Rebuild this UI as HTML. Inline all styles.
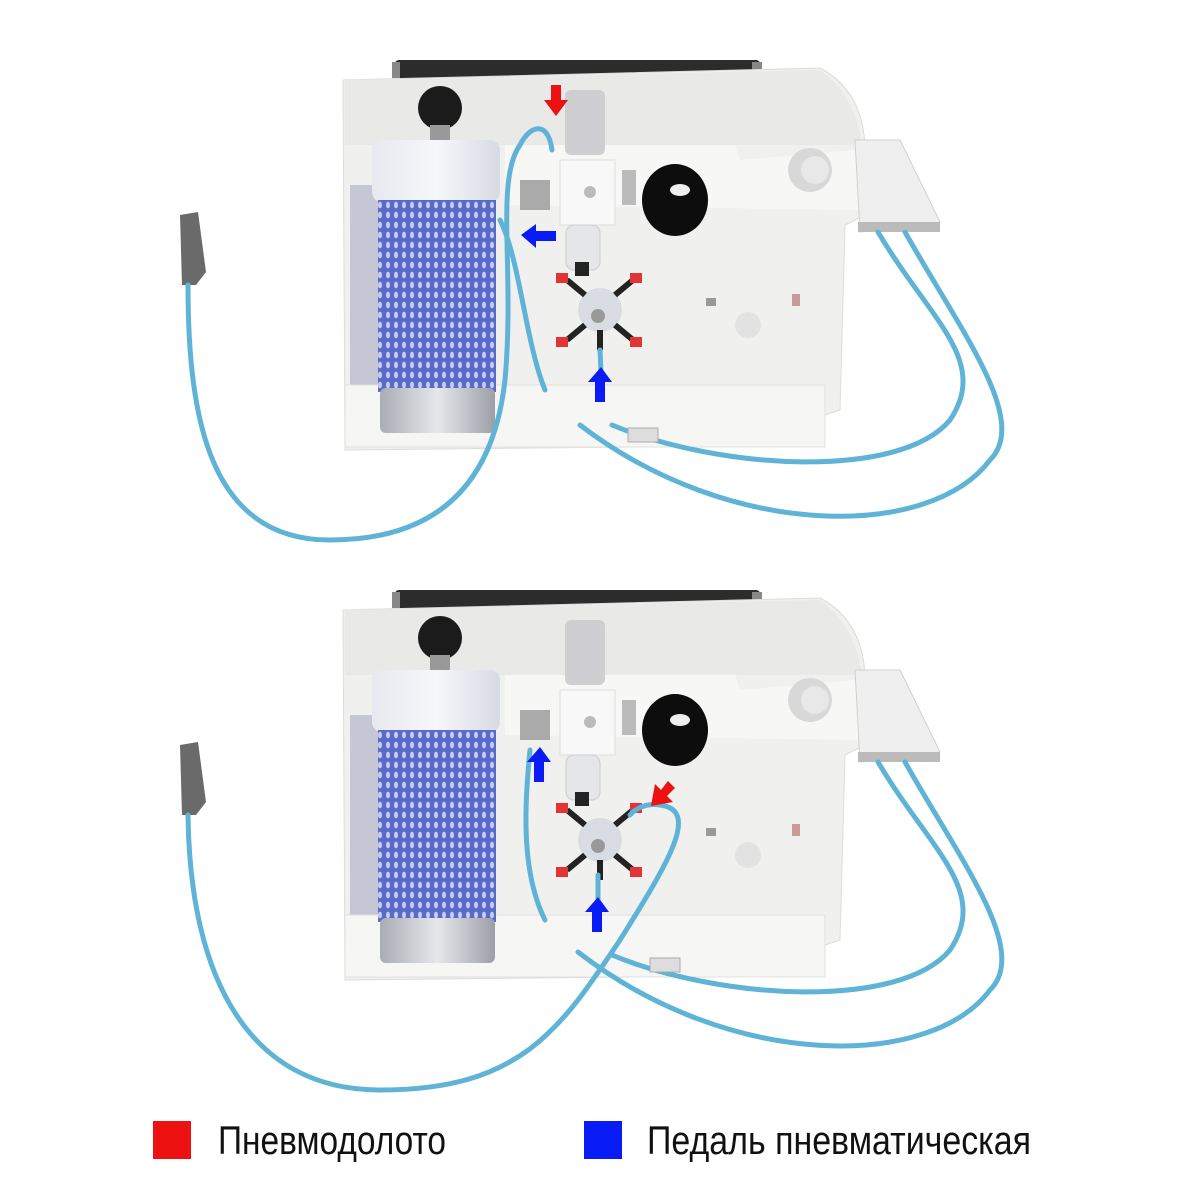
<!DOCTYPE html>
<html><head><meta charset="utf-8"><style>
html,body{margin:0;padding:0;background:#fff;}
svg{display:block}
.lg{font-family:"Liberation Sans Narrow","Liberation Sans",sans-serif;font-size:40px;fill:#111;}
</style></head><body>
<svg width="1182" height="1194" viewBox="0 0 1182 1194" xmlns="http://www.w3.org/2000/svg">
<defs>
<pattern id="mesh" width="8" height="10" patternUnits="userSpaceOnUse">
<rect width="8" height="10" fill="#5a6acb"/>
<ellipse cx="4" cy="5" rx="2" ry="3.4" fill="#c8cdf0"/>
</pattern>
<linearGradient id="cap" x1="0" x2="1"><stop offset="0" stop-color="#e6e9ef"/><stop offset="0.5" stop-color="#f6f7fa"/><stop offset="1" stop-color="#d7dbe2"/></linearGradient>
<linearGradient id="base" x1="0" x2="1"><stop offset="0" stop-color="#a9adb4"/><stop offset="0.5" stop-color="#e5e7ea"/><stop offset="1" stop-color="#9ca0a6"/></linearGradient>
<g id="unit">
<rect x="395" y="60" width="365" height="18" rx="4" fill="#2c2c2c"/>
<rect x="392" y="62" width="8" height="16" fill="#888"/><rect x="752" y="62" width="10" height="16" fill="#888"/>
<path d="M343 80 L820 68 Q862 90 865 145 L865 215 L845 225 L840 410 L825 415 L825 445 L345 450 Z" fill="#f0f0ee" stroke="#dcdcda"/>
<path d="M345 80 L820 70 Q855 95 862 145 L345 145 Z" fill="#e9e9e7"/>
<path d="M505 145 L735 145 L740 160 L855 150 L860 210 L505 205 Z" fill="#f7f7f6"/>
<rect x="350" y="185" width="30" height="245" fill="#c5c8d4"/>
<rect x="345" y="385" width="480" height="62" fill="#f6f6f5" stroke="#e0e0de"/>
<ellipse cx="675" cy="200" rx="33" ry="36" fill="#0d0d0d"/>
<ellipse cx="680" cy="190" rx="10" ry="6" fill="#eee"/>
<circle cx="810" cy="170" r="22" fill="#d8d8d8"/><circle cx="815" cy="170" r="14" fill="#e8e8e8"/>
<circle cx="748" cy="325" r="13" fill="#e2e2e2"/>
<path d="M855 140 L900 140 L940 222 L860 232 Z" fill="#efefef" stroke="#d0d0d0"/>
<rect x="858" y="222" width="82" height="10" fill="#bbb"/>
<circle cx="440" cy="108" r="22" fill="#1b1b1b"/>
<rect x="430" y="125" width="20" height="20" fill="#999"/>
<rect x="372" y="140" width="128" height="62" rx="10" fill="url(#cap)"/>
<rect x="378" y="200" width="118" height="192" fill="url(#mesh)"/>
<rect x="380" y="388" width="115" height="45" rx="6" fill="url(#base)"/>
<rect x="565" y="90" width="40" height="65" rx="6" fill="#cfcfd1"/>
<rect x="560" y="160" width="55" height="65" fill="#f8f8f8" stroke="#ddd"/>
<circle cx="590" cy="192" r="6" fill="#bbb"/>
<rect x="566" y="225" width="34" height="45" rx="8" fill="#e4e6e8" stroke="#ccc"/>
<rect x="575" y="262" width="14" height="14" fill="#222"/>
<rect x="622" y="170" width="14" height="35" fill="#bbb"/>
<rect x="520" y="180" width="30" height="30" fill="#aaa"/>
<circle cx="600" cy="310" r="22" fill="#d9dde3"/><circle cx="598" cy="316" r="7" fill="#999"/>
<g stroke="#222" stroke-width="6"><line x1="585" y1="295" x2="567" y2="280"/><line x1="615" y1="295" x2="633" y2="280"/><line x1="585" y1="325" x2="567" y2="340"/><line x1="615" y1="325" x2="633" y2="340"/><line x1="600" y1="330" x2="600" y2="350"/></g>
<g fill="#e23434"><rect x="556" y="273" width="12" height="10"/><rect x="630" y="273" width="12" height="10"/><rect x="556" y="337" width="12" height="10"/><rect x="630" y="337" width="12" height="10"/></g>
<rect x="706" y="298" width="10" height="8" fill="#999"/><rect x="792" y="294" width="8" height="12" fill="#c99"/>
</g>
</defs>

<use href="#unit"/>
<use href="#unit" transform="translate(0,530)"/>

<g>
<path d="M180 215 L198 212 L206 272 L196 285 L182 285 Z" fill="#6a6a6a"/>
<path d="M180 745 L198 742 L206 802 L196 815 L182 815 Z" fill="#6a6a6a"/>
</g>

<g fill="none" stroke="#5fb3d6" stroke-width="5" stroke-linecap="round">
<path d="M188 285 C188 420 210 540 330 540 C450 540 495 470 505 380 C515 270 495 180 520 145 C530 125 548 120 552 150"/>
<path d="M500 220 C520 260 525 340 545 390"/>
<path d="M600 350 L602 395"/>
<path d="M878 232 C930 320 990 360 950 420 C900 480 720 470 612 425"/>
<path d="M905 232 C960 330 1030 420 990 460 C930 540 730 540 580 425"/>
</g>
<rect x="628" y="428" width="30" height="14" fill="#ddd" stroke="#aaa"/>

<g fill="none" stroke="#5fb3d6" stroke-width="5" stroke-linecap="round">
<path d="M188 815 C190 980 250 1090 380 1090 C520 1090 560 1030 620 940 C670 860 700 810 660 805 C640 802 630 815 630 815"/>
<path d="M530 750 C525 800 520 870 545 920"/>
<path d="M598 875 L598 925"/>
<path d="M878 762 C930 850 990 890 950 950 C900 1010 720 1000 612 955"/>
<path d="M905 762 C960 860 1030 950 990 990 C930 1070 730 1070 578 952"/>
</g>
<rect x="650" y="958" width="30" height="14" fill="#ddd" stroke="#aaa"/>

<g fill="#ee1111">
<path d="M551 85 h10 v15 h7 l-12 16 l-12 -16 h7 z"/>
<path d="M668 781 l7 7 l-8 8 l6 6 l-22 4 l4 -22 l6 6 z"/>
</g>
<g fill="#0a1cf5">
<path d="M521 235 l15 -11 v7 h20 v10 h-20 v7 z"/>
<path d="M601 367 l11 15 h-7 v20 h-10 v-20 h-7 z"/>
<path d="M540 747 l11 15 h-7 v20 h-10 v-20 h-7 z"/>
<path d="M598 897 l11 15 h-7 v20 h-10 v-20 h-7 z"/>
</g>

<rect x="153" y="1121" width="38" height="38" fill="#ee1111"/>
<text class="lg" x="218" y="1154" textLength="228" lengthAdjust="spacingAndGlyphs">Пневмодолото</text>
<rect x="584" y="1121" width="38" height="38" fill="#0a1cf5"/>
<text class="lg" x="647" y="1154" textLength="384" lengthAdjust="spacingAndGlyphs">Педаль пневматическая</text>
</svg>
</body></html>
